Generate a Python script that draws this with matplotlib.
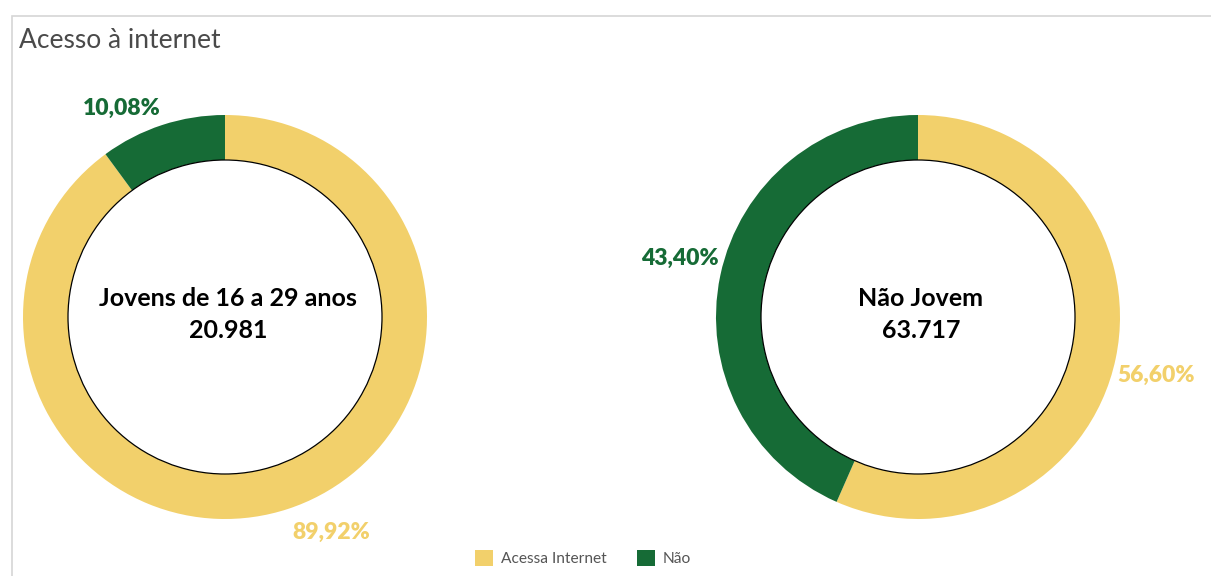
import matplotlib.pyplot as plt
import numpy as np
from matplotlib.patches import Circle, Rectangle

# internet access by age group
groups = ["Jovens de 16 a 29 anos", "Não Jovem"]
totals = ["20.981", "63.717"]
categories = ["Acessa Internet", "Não"]
shares = [[89.92, 10.08], [56.60, 43.40]]

YELLOW = "#F2D06B"
GREEN = "#166B36"
colors = [YELLOW, GREEN]

plt.rcParams['font.family'] = ['Lato', 'DejaVu Sans']

W, H = 1211, 576
fig = plt.figure(figsize=(W / 100, H / 100), dpi=100)
ax = fig.add_axes([0, 0, 1, 1])

# panel frame (open on right and bottom)
fig.patches.append(Rectangle((12 / W, -0.1), 1.2, (H - 16) / H + 0.1, transform=fig.transFigure,
                             fill=False, edgecolor="#d6d6d6", lw=1.2))

centers = [(225, H - 317), (918, H - 317)]
r_out, r_in = 202, 157

for (cx, cy), name, total, vals in zip(centers, groups, totals, shares):
    ax.pie(vals, colors=colors, startangle=90, counterclock=False, center=(cx, cy),
           radius=r_out, wedgeprops=dict(width=r_out - r_in, linewidth=0))
    ax.add_patch(Circle((cx, cy), r_in, facecolor="white", edgecolor="black", lw=0.9, zorder=3))
    ax.text(cx + 3, cy + 19, name, ha="center", va="center", fontsize=18,
            fontweight="bold", color="black", zorder=4)
    ax.text(cx + 3, cy - 13, total, ha="center", va="center", fontsize=18,
            fontweight="bold", color="black", zorder=4)

    # percent labels just outside each wedge
    start = 90.0
    for v, c in zip(vals, colors):
        mid = np.deg2rad(start - v * 3.6 / 2)
        start -= v * 3.6
        s = np.sin(mid)
        if s > 0.7:
            va, r_lab, dy = "bottom", r_out + 6, 0
        elif s < -0.7:
            va, r_lab, dy = "top", r_out + 14, 0
        else:
            va, r_lab, dy = "center", r_out + 2, 80 * s
        px = cx + r_lab * np.cos(mid)
        py = cy + r_lab * s + dy
        ha = "left" if np.cos(mid) > 0 else "right"
        ax.text(px, py, f"{v:.2f}%".replace(".", ","), ha=ha, va=va, fontsize=16.5,
                fontweight="heavy", color=c)

ax.set_xlim(0, W)
ax.set_ylim(0, H)
ax.set_aspect("equal")
ax.axis("off")

fig.text(19 / W, 1 - 40 / H, "Acesso à internet", ha="left", va="center",
         fontsize=19, color="#4a4a4a")

# legend
handles = [Rectangle((0, 0), 1, 1, facecolor=c) for c in colors]
fig.legend(handles, categories, loc="center", bbox_to_anchor=(583 / W, 1 - 558 / H), ncol=2,
           frameon=False, fontsize=11.2, handlelength=1.2, handleheight=1.2,
           columnspacing=1.9, handletextpad=0.5, labelcolor="#555555")

fig.savefig("out.png", dpi=100)
